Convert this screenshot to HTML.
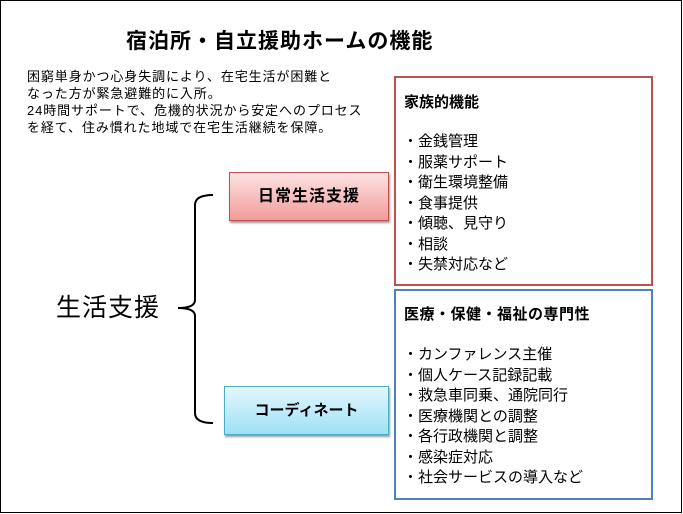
<!DOCTYPE html>
<html><head><meta charset="utf-8"><style>
body{margin:0;width:683px;height:514px;background:#fff;position:relative;overflow:hidden;font-family:"Liberation Sans","Noto Sans CJK JP",sans-serif;color:#000}
.a{position:absolute;white-space:nowrap}
</style></head><body>
<div class="a" style="left:0;top:0;width:680px;height:511px;border:1px solid #000"></div>
<div class="a" style="left:126px;top:25px;font-size:21px;font-weight:bold;letter-spacing:1px">宿泊所・自立援助ホームの機能</div>
<div class="a" style="left:27px;top:68px;font-size:13px;line-height:17px;letter-spacing:0.9px">困窮単身かつ心身失調により、在宅生活が困難と<br>なった方が緊急避難的に入所。<br>24時間サポートで、危機的状況から安定へのプロセス<br>を経て、住み慣れた地域で在宅生活継続を保障。</div>
<div class="a" style="left:229px;top:172px;width:158px;height:47px;border:1px solid #c0504d;background:linear-gradient(#fde3e3,#f29b9b);box-shadow:1px 2px 2px #999;font-size:16px;letter-spacing:1px;font-weight:bold;text-align:center;line-height:47px">日常生活支援</div>
<div class="a" style="left:224px;top:386px;width:163px;height:47px;border:1px solid #4bacc6;background:linear-gradient(#e3f7fd,#9ee1f5);box-shadow:1px 2px 2px #999;font-size:15px;font-weight:bold;text-align:center;line-height:47px">コーディネート</div>
<div class="a" style="left:56px;top:292px;font-size:25px;line-height:32px;letter-spacing:1px">生活支援</div>
<svg class="a" style="left:0;top:0" width="683" height="514"><path d="M213 195 Q195 195 195 205 L195 300 Q195 308 178 308 Q195 308 195 316 L195 413 Q195 423 213 423" fill="none" stroke="#000" stroke-width="2"/></svg>
<div class="a" style="left:394px;top:76px;width:255px;height:206px;border:2px solid #c0504d"></div>
<div class="a" style="left:404px;top:91px;font-size:15px;font-weight:bold">家族的機能</div>
<div class="a" style="left:403px;top:132px;font-size:15px;line-height:20.5px">・金銭管理<br>・服薬サポート<br>・衛生環境整備<br>・食事提供<br>・傾聴、見守り<br>・相談<br>・失禁対応など</div>
<div class="a" style="left:394px;top:289px;width:255px;height:207px;border:2px solid #4f81bd"></div>
<div class="a" style="left:404px;top:303px;font-size:15px;font-weight:bold;letter-spacing:0.5px">医療・保健・福祉の専門性</div>
<div class="a" style="left:403px;top:345px;font-size:15px;line-height:20.5px">・カンファレンス主催<br>・個人ケース記録記載<br>・救急車同乗、通院同行<br>・医療機関との調整<br>・各行政機関と調整<br>・感染症対応<br>・社会サービスの導入など</div>
</body></html>
